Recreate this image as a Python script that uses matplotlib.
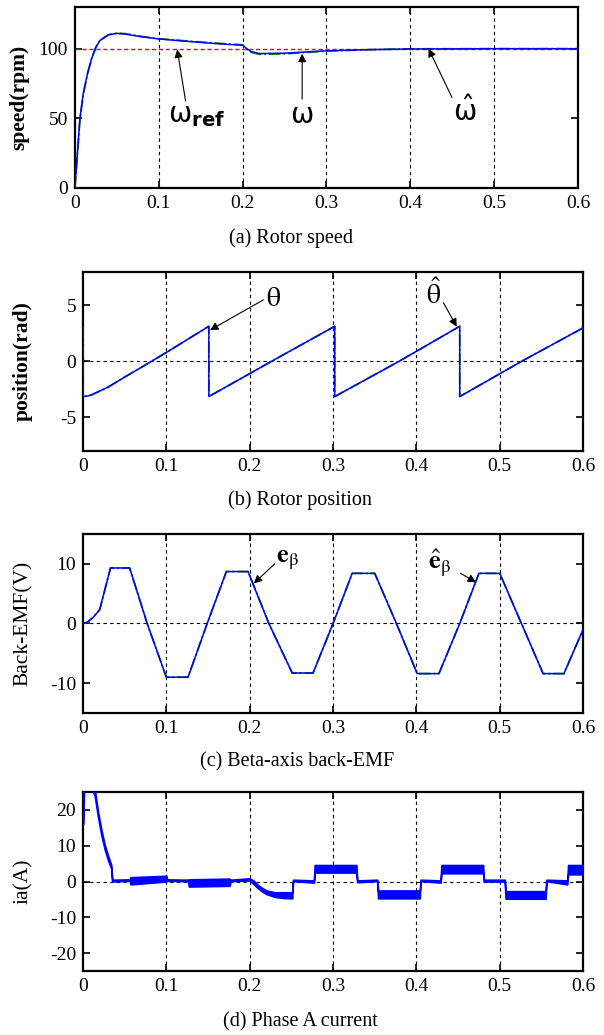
import matplotlib.pyplot as plt
import numpy as np

plt.rcParams['font.family'] = ['Liberation Serif', 'DejaVu Serif']
plt.rcParams['mathtext.fontset'] = 'stix'
plt.rcParams['axes.unicode_minus'] = False

# (a) rotor speed
t_speed = [0, 0.003, 0.006, 0.01, 0.015, 0.02, 0.025, 0.03, 0.04, 0.05, 0.06, 0.08,
           0.1, 0.12, 0.15, 0.18, 0.2, 0.205, 0.21, 0.22, 0.25, 0.3, 0.35, 0.4, 0.5, 0.6]
speed = [0, 25, 50, 68, 82, 93, 101, 106, 110, 111, 110.5, 108.5,
         107, 106, 104.5, 103.2, 102.5, 100, 98, 96.5, 96.8, 98.5, 99.3, 99.8, 100, 100]
speed_est = [0, 24, 49, 67, 82, 93, 101, 106, 110, 111.2, 110.8, 108.8,
             107.2, 106.2, 104.8, 103.5, 102.8, 99.6, 97.5, 96, 96.3, 98.3, 99.3, 99.9, 100, 100]
speed_ref = 100

# (b) rotor position
t_pos = [0, 0, 0.005, 0.01, 0.03, 0.05, 0.082, 0.1, 0.151, 0.151, 0.226, 0.302, 0.302,
         0.379, 0.452, 0.452, 0.526, 0.6]
pos = [3.1, -3.14, -3.1, -3.0, -2.3, -1.4, 0, 0.8, 3.14, -3.14, 0, 3.14, -3.14,
       0, 3.14, -3.14, 0, 3.0]

# (c) beta-axis back-EMF
t_emf = [0, 0.005, 0.012, 0.02, 0.033, 0.056, 0.077, 0.1, 0.126, 0.149, 0.172, 0.198,
         0.223, 0.251, 0.276, 0.3, 0.323, 0.35, 0.376, 0.401, 0.427, 0.452, 0.475,
         0.5, 0.526, 0.552, 0.577, 0.6]
emf = [0, 0.2, 1.0, 2.3, 9.3, 9.3, 0, -9.0, -9.0, 0, 8.7, 8.7,
       0, -8.3, -8.3, 0, 8.4, 8.4, 0, -8.4, -8.4, 0, 8.4,
       8.4, 0, -8.4, -8.4, -1.0]

# (d) phase A current (band envelope)
t_ia = [0, 0.002, 0.014, 0.018, 0.022, 0.026, 0.030, 0.034, 0.035, 0.056, 0.057, 0.100,
        0.101, 0.126, 0.127, 0.176, 0.177, 0.200, 0.205, 0.210, 0.215, 0.220, 0.230,
        0.240, 0.251, 0.252, 0.277, 0.278, 0.328, 0.329, 0.353, 0.354, 0.404, 0.405,
        0.429, 0.430, 0.480, 0.481, 0.506, 0.507, 0.555, 0.556, 0.581, 0.582, 0.600]
ia_lo = [16, 30, 24, 18, 13, 9, 6, 3.5, 0, 0.2, -0.8, 0,
         0.2, 0.1, -1.4, -1.2, 0.1, 0.3, -0.8, -1.9, -2.8, -3.5, -4.3,
         -4.6, -4.7, 0.1, -0.3, 2.5, 2.5, -0.2, 0.1, -4.7, -4.7, 0.1,
         -0.3, 2.3, 2.3, 0.0, 0.0, -4.8, -4.8, 0.1, -0.8, 2.0, 2.0]
ia_hi = [30, 32, 26, 19.5, 14.5, 10.3, 7.3, 4.5, 0.5, 0.6, 1.2, 1.6,
         0.6, 0.5, 0.6, 0.8, 0.5, 0.9, 0.2, -1.0, -1.8, -2.5, -3.0,
         -3.0, -3.0, 0.5, 0.3, 4.6, 4.6, 0.3, 0.5, -2.5, -2.5, 0.5,
         0.3, 4.6, 4.6, 0.5, 0.5, -2.7, -2.7, 0.5, 0.3, 4.6, 4.6]

xticks = [0, 0.1, 0.2, 0.3, 0.4, 0.5, 0.6]
xticklabels = ['0', '0.1', '0.2', '0.3', '0.4', '0.5', '0.6']

fig = plt.figure(figsize=(6.04, 10.35), dpi=100)
ax_a = fig.add_axes([0.124, 0.8184, 0.833, 0.1749])
ax_b = fig.add_axes([0.1374, 0.5643, 0.828, 0.173])
ax_c = fig.add_axes([0.1374, 0.3111, 0.828, 0.173])
ax_d = fig.add_axes([0.1374, 0.0618, 0.828, 0.173])


def style(ax, ylim, yticks, ylabel, bold, zero_line=True):
    ax.set_xlim(0, 0.6)
    ax.set_ylim(*ylim)
    ax.set_xticks(xticks)
    ax.set_xticklabels(xticklabels)
    ax.set_yticks(yticks)
    ax.tick_params(direction='in', length=5, width=1.2, top=True, right=True,
                   labelsize=14, pad=5)
    for s in ax.spines.values():
        s.set_linewidth(1.6)
    for x in xticks[1:-1]:
        ax.axvline(x, color='k', lw=0.8, ls=(0, (3, 3)), zorder=1)
    if zero_line:
        ax.axhline(0, color='k', lw=0.8, ls=(0, (3, 3)), zorder=1)
    ax.set_ylabel(ylabel, fontsize=15.5, fontweight='bold' if bold else 'normal')


# (a)
style(ax_a, (0, 130), [0, 50, 100], 'speed(rpm)', True, zero_line=False)
ax_a.axhline(speed_ref, color='red', lw=1.0, ls=(0, (3, 2)), zorder=2)
ax_a.plot(t_speed, speed_est, color='green', lw=1.3, ls='-.', zorder=3)
ax_a.plot(t_speed, speed, color='blue', lw=1.1, zorder=4)
arr = dict(arrowstyle='-|>', color='k', lw=0.8, mutation_scale=12, shrinkA=0, shrinkB=0)
ax_a.annotate('', xy=(0.122, 99.5), xytext=(0.132, 62.5), arrowprops=arr)
ax_a.annotate('', xy=(0.271, 96.4), xytext=(0.271, 63.8), arrowprops=arr)
ax_a.annotate('', xy=(0.4217, 100), xytext=(0.4497, 65), arrowprops=arr)
ax_a.text(0.145, 51, r'$\mathrm{\omega}_{\mathbf{ref}}$', fontsize=20, ha='center', va='center',
          math_fontfamily='dejavusans')
ax_a.text(0.271, 51, r'$\mathrm{\omega}$', fontsize=20, ha='center', va='center',
          math_fontfamily='dejavusans')
ax_a.text(0.4654, 55, r'$\hat{\mathrm{\omega}}$', fontsize=20, ha='center', va='center',
          math_fontfamily='dejavusans')
fig.text(0.482, 0.770, '(a) Rotor speed', fontsize=14.5, ha='center', va='center')

# (b)
style(ax_b, (-8, 8), [-5, 0, 5], 'position(rad)', True)
ax_b.plot(t_pos, pos, color='green', lw=1.3, ls='-.', zorder=3)
ax_b.plot(t_pos, pos, color='blue', lw=1.1, zorder=4)
ax_b.annotate('', xy=(0.1524, 2.8), xytext=(0.2164, 5.5), arrowprops=arr)
ax_b.annotate('', xy=(0.4484, 3.1), xytext=(0.4324, 5.25), arrowprops=arr)
ax_b.text(0.2284, 5.55, r'$\mathrm{\theta}$', fontsize=20, ha='center', va='center')
ax_b.text(0.4204, 6.0, r'$\hat{\mathrm{\theta}}$', fontsize=20, ha='center', va='center')
fig.text(0.497, 0.5169, '(b) Rotor position', fontsize=14.5, ha='center', va='center')

# (c)
style(ax_c, (-15, 15), [-10, 0, 10], 'Back-EMF(V)', False)
ax_c.plot(t_emf, emf, color='green', lw=1.3, ls='-.', zorder=3)
ax_c.plot(t_emf, emf, color='blue', lw=1.1, zorder=4)
ax_c.annotate('', xy=(0.205, 6.7), xytext=(0.23, 10.0), arrowprops=arr)
ax_c.annotate('', xy=(0.4715, 6.9), xytext=(0.453, 8.4), arrowprops=arr)
ax_c.text(0.245, 10.6, r'$\mathbf{e}_{\mathrm{\beta}}$', fontsize=19, ha='center', va='center')
ax_c.text(0.428, 10.0, r'$\hat{\mathbf{e}}_{\mathrm{\beta}}$', fontsize=19, ha='center', va='center')
fig.text(0.492, 0.2638, '(c) Beta-axis back-EMF', fontsize=14.5, ha='center', va='center')

# (d)
style(ax_d, (-25, 25), [-20, -10, 0, 10, 20], 'ia(A)', False)
ax_d.fill_between(t_ia, ia_lo, ia_hi, color='blue', lw=1.2, edgecolor='blue', zorder=3)
fig.text(0.498, 0.0126, '(d) Phase A current', fontsize=14.5, ha='center', va='center')

for ax in (ax_a, ax_b, ax_c, ax_d):
    ax.yaxis.set_label_coords(-0.09 if ax is ax_a else -0.10, 0.5)

fig.savefig('out.png', dpi=100)
